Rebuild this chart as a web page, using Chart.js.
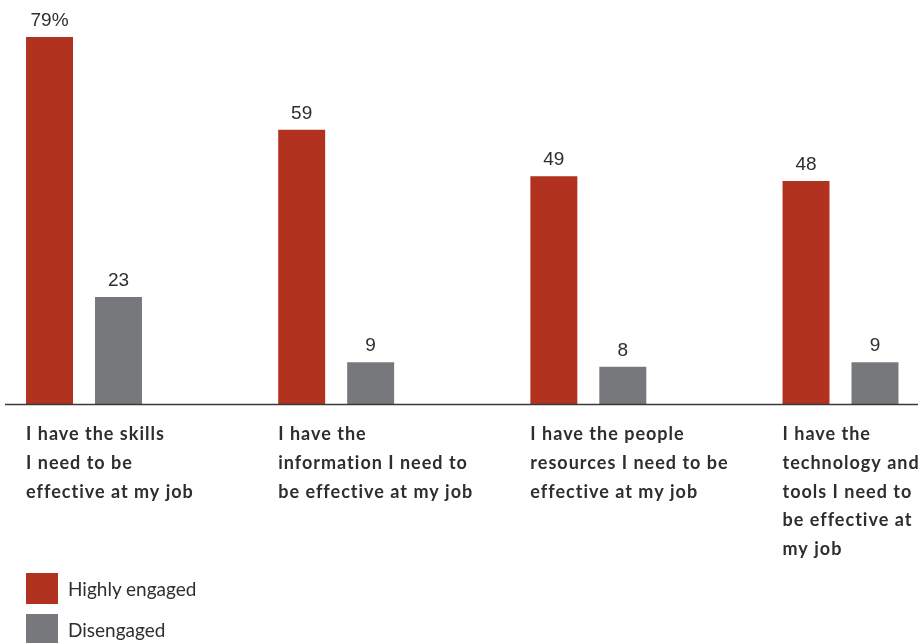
<!DOCTYPE html>
<html>
<head>
<meta charset="utf-8">
<script src="https://cdn.jsdelivr.net/npm/chart.js@4.4.1/dist/chart.umd.min.js"></script>
<style>
    body { margin:0; background:#fff; }
    #wrap { position:relative; width:922px; height:643px; }
    #legend { position:absolute; left:26px; top:573px; font-family:Lato, "Open Sans", sans-serif; font-size:19px; color:#2e2e2e; }
    .item { display:flex; align-items:center; height:31px; margin-bottom:10px; }
    .box { width:32px; height:31px; margin-right:10px; }
</style>
</head>
<body>
<div id="wrap">
    <canvas id="myChart" width="922" height="643"></canvas>
    <div id="legend"></div>
</div>
<script>
let categories = [
    ['I have the skills', 'I need to be', 'effective at my job'],
    ['I have the', 'information I need to', 'be effective at my job'],
    ['I have the people', 'resources I need to be', 'effective at my job'],
    ['I have the', 'technology and', 'tools I need to', 'be effective at', 'my job']
];
let seriesNames = ['Highly engaged', 'Disengaged'];
let engaged = [79, 59, 49, 48];
let disengaged = [23, 9, 8, 9];
let colores = ['#b23220', '#77787b'];

// valores encima de cada barra, el primero con %
const valueLabels = {
    id: 'valueLabels',
    afterDatasetsDraw(chart) {
        let ctx = chart.ctx;
        ctx.save();
        ctx.font = '19px "Liberation Sans", Arial, sans-serif';
        ctx.fillStyle = '#2e2e2e';
        ctx.textAlign = 'center';
        ctx.textBaseline = 'alphabetic';
        chart.data.datasets.forEach(function(ds, d) {
            chart.getDatasetMeta(d).data.forEach(function(bar, i) {
                let txt = ds.data[i] + ((d == 0 && i == 0) ? '%' : '');
                ctx.fillText(txt, bar.x, bar.y - 11);
            });
        });
        ctx.restore();
    }
};

// linea base y textos de categoria alineados a la izquierda de cada grupo
const baseAndLabels = {
    id: 'baseAndLabels',
    afterDatasetsDraw(chart) {
        let ctx = chart.ctx;
        let y0 = chart.scales.y.getPixelForValue(0);
        ctx.save();
        ctx.strokeStyle = '#3a3a3a';
        ctx.lineWidth = 1.5;
        ctx.beginPath();
        ctx.moveTo(5, y0 + 0.5);
        ctx.lineTo(918, y0 + 0.5);
        ctx.stroke();

        ctx.font = 'bold 18px Lato, "Open Sans", sans-serif';
        ctx.letterSpacing = '1px';
        ctx.fillStyle = '#2e2e2e';
        ctx.textAlign = 'left';
        let bars = chart.getDatasetMeta(0).data;
        for (let i = 0; i < categories.length; i++) {
            let x = bars[i].x - bars[i].width / 2;
            for (let j = 0; j < categories[i].length; j++) {
                ctx.fillText(categories[i][j], x, y0 + 36 + j * 28.8);
            }
        }
        ctx.restore();
    }
};

const ctx = document.getElementById('myChart').getContext('2d');
const myChart = new Chart(ctx, {
    type: 'bar',
    data: {
        labels: categories,
        datasets: [{
            label: seriesNames[0],
            data: engaged,
            backgroundColor: colores[0],
            barPercentage: 0.681,
            categoryPercentage: 0.547,
            clip: false
        }, {
            label: seriesNames[1],
            data: disengaged,
            backgroundColor: colores[1],
            barPercentage: 0.681,
            categoryPercentage: 0.547,
            clip: false
        }]
    },
    options: {
        responsive: false,
        animation: false,
        layout: { padding: { top: 9, bottom: 239, left: 84, right: 81.5 } },
        scales: {
            x: { display: false, offset: false },
            y: { display: false, min: 0, max: 85 }
        },
        plugins: {
            legend: { display: false },
            tooltip: { enabled: false }
        }
    },
    plugins: [valueLabels, baseAndLabels]
});

// leyenda vertical abajo a la izquierda
let legendHtml = '';
for (let i = 0; i < seriesNames.length; i++) {
    legendHtml += "<div class='item'><div class='box' style='background:" + colores[i] + "'></div>" + seriesNames[i] + "</div>";
}
document.getElementById('legend').innerHTML = legendHtml;
</script>
</body>
</html>
